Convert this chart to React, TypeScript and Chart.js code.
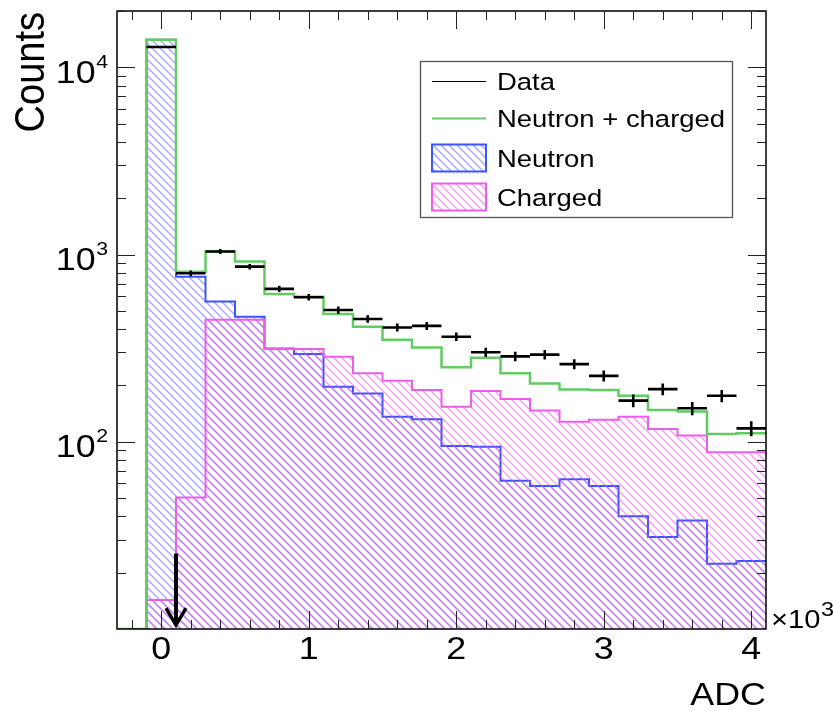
import { useEffect, useRef } from 'react';
import { Chart, registerables } from 'chart.js';

Chart.register(...registerables);

// ---------- data (ADC in units of 10^3) ----------
const binEdges = [-0.3, -0.1, 0.1, 0.3, 0.5, 0.7, 0.9, 1.1, 1.3, 1.5, 1.7, 1.9, 2.1, 2.3, 2.5, 2.7, 2.9, 3.1, 3.3, 3.5, 3.7, 3.9, 4.1];
const dataCounts = [0, 12840, 795, 1038, 862, 656, 592, 506, 453, 408, 416, 364, 301, 286, 292, 260, 225, 166, 191, 151, 176, 118];
const totalCounts = [0, 14060, 810, 1038, 918, 616, 596, 482, 412, 351, 319, 250, 281, 232, 205, 190, 189, 176, 148, 145, 110, 111];
const neutronCounts = [0, 14050, 762, 561, 466, 315, 294, 197, 181, 136, 132, 95, 94, 62, 58, 63, 58, 40, 31, 38, 22.3, 23.1];
const chargedCounts = [0, 14.3, 50.4, 449, 449, 313, 313, 285, 232, 212, 189, 154, 187, 169, 147, 128, 131, 136, 117, 108, 88, 88];

const xMajorTicks = [0, 1, 2, 3, 4];
const xTickLabels = ['0', '1', '2', '3', '4'];
const yDecadeExponents = [2, 3, 4];
const legendLabels = ['Data', 'Neutron + charged', 'Neutron', 'Charged'];
const arrowX = 0.1;
const arrowTop = 25.3;
const arrowTip = 10.5;

const X_MIN = -0.3;
const X_MAX = 4.1;
const Y_MIN = 10;
const Y_MAX = 20000;

const FONT = "'Liberation Sans', Arial, Helvetica, sans-serif";
const SX = 1.12;
const GREEN = '#62cc62';
const BLUE = '#3a55ff';
const MAGENTA = '#ee5cee';

function steps(vals: number[]) {
  return binEdges.map((e, i) => ({ x: e, y: Math.max(vals[Math.min(i, vals.length - 1)], Y_MIN) }));
}

function makeHatch(color: string) {
  const s = 8;
  const c = document.createElement('canvas');
  c.width = s;
  c.height = s;
  const g = c.getContext('2d')!;
  g.strokeStyle = color;
  g.lineWidth = 1.4;
  g.beginPath();
  for (let k = -1; k <= 1; k++) {
    g.moveTo(k * s - 1, -1);
    g.lineTo(k * s + s + 1, s + 1);
  }
  g.stroke();
  return g.createPattern(c, 'repeat')!;
}

function text(ctx: CanvasRenderingContext2D, str: string, x: number, y: number, size: number, align: CanvasTextAlign) {
  ctx.save();
  ctx.translate(x, y);
  ctx.scale(SX, 1);
  ctx.font = `${size}px ${FONT}`;
  ctx.textAlign = align;
  ctx.textBaseline = 'alphabetic';
  ctx.fillStyle = '#000';
  ctx.fillText(str, 0, 0);
  ctx.restore();
}

function width(ctx: CanvasRenderingContext2D, str: string, size: number) {
  ctx.save();
  ctx.font = `${size}px ${FONT}`;
  const w = ctx.measureText(str).width * SX;
  ctx.restore();
  return w;
}

export default function App() {
  const ref = useRef<HTMLCanvasElement>(null);

  useEffect(() => {
    const canvas = ref.current!;
    const blueHatch = makeHatch('rgba(80,80,255,0.5)');
    const magHatch = makeHatch('rgba(235,80,235,0.55)');

    const rootPlugin = {
      id: 'rootStyle',
      afterDatasetsDraw(chart: any) {
        const ctx: CanvasRenderingContext2D = chart.ctx;
        const a = chart.chartArea;
        const x = chart.scales.x;
        const y = chart.scales.y;

        // data points with error bars
        ctx.save();
        ctx.strokeStyle = '#000';
        ctx.lineWidth = 2.6;
        dataCounts.forEach((n, i) => {
          if (!n) return;
          const x0 = x.getPixelForValue(binEdges[i]);
          const x1 = x.getPixelForValue(binEdges[i + 1]);
          const py = y.getPixelForValue(n);
          const err = Math.sqrt(n);
          const xc = (x0 + x1) / 2;
          ctx.beginPath();
          ctx.moveTo(x0, py);
          ctx.lineTo(x1, py);
          ctx.moveTo(xc, y.getPixelForValue(n + err));
          ctx.lineTo(xc, y.getPixelForValue(n - err));
          ctx.stroke();
        });
        ctx.restore();

        // arrow
        ctx.save();
        const ax = x.getPixelForValue(arrowX);
        const aTop = y.getPixelForValue(arrowTop);
        const aTip = y.getPixelForValue(arrowTip);
        ctx.strokeStyle = '#000';
        ctx.lineWidth = 4;
        ctx.lineCap = 'butt';
        ctx.beginPath();
        ctx.moveTo(ax, aTop);
        ctx.lineTo(ax, aTip - 3);
        ctx.stroke();
        ctx.lineWidth = 3.4;
        ctx.lineJoin = 'miter';
        ctx.beginPath();
        ctx.moveTo(ax - 10, aTip - 17);
        ctx.lineTo(ax, aTip);
        ctx.lineTo(ax + 10, aTip - 17);
        ctx.stroke();
        ctx.restore();

        // frame
        ctx.save();
        ctx.strokeStyle = '#000';
        ctx.lineWidth = 1.5;
        ctx.strokeRect(a.left, a.top, a.right - a.left, a.bottom - a.top);

        // ticks
        ctx.lineWidth = 1;
        ctx.strokeStyle = '#222';
        ctx.beginPath();
        for (let k = -1; k <= 20; k++) {
          const v = k / 5;
          const px = Math.round(x.getPixelForValue(v)) + 0.5;
          const major = k % 5 === 0;
          const len = major ? 18 : 9;
          ctx.moveTo(px, a.bottom);
          ctx.lineTo(px, a.bottom - len);
          ctx.moveTo(px, a.top);
          ctx.lineTo(px, a.top + len);
        }
        for (let e = 1; e <= 4; e++) {
          for (let m = 1; m <= 9; m++) {
            const v = m * Math.pow(10, e);
            if (v <= Y_MIN || v > Y_MAX) continue;
            const py = Math.round(y.getPixelForValue(v)) + 0.5;
            const len = m === 1 ? 18 : 9;
            ctx.moveTo(a.left, py);
            ctx.lineTo(a.left + len, py);
            ctx.moveTo(a.right, py);
            ctx.lineTo(a.right - len, py);
          }
        }
        ctx.stroke();
        ctx.restore();

        // y labels 10^n
        yDecadeExponents.forEach((ex) => {
          const py = y.getPixelForValue(Math.pow(10, ex));
          const supSize = 19;
          const right = a.left - 9;
          const ws = width(ctx, String(ex), supSize);
          text(ctx, String(ex), right - ws, py + 0.5, supSize, 'left');
          text(ctx, '10', right - ws - 0.5, py + 15.5, 32, 'right');
        });

        // x labels
        xMajorTicks.forEach((v, i) => {
          text(ctx, xTickLabels[i], x.getPixelForValue(v), a.bottom + 30, 32, 'center');
        });
        // x10^3
        text(ctx, '\u00d710', a.right + 5, a.bottom - 1, 26, 'left');
        const w10 = width(ctx, '\u00d710', 26);
        text(ctx, '3', a.right + 5 + w10 + 0.5, a.bottom - 13, 21, 'left');

        // axis titles
        text(ctx, 'ADC', a.right, a.bottom + 76, 32, 'right');
        ctx.save();
        ctx.translate(44, 12);
        ctx.scale(SX, 1);
        ctx.rotate(-Math.PI / 2);
        ctx.font = `38px ${FONT}`;
        ctx.textAlign = 'right';
        ctx.fillStyle = '#000';
        ctx.fillText('Counts', 0, 0);
        ctx.restore();

        // legend
        ctx.save();
        const L = { x0: 420, y0: 61, x1: 732, y1: 217 };
        ctx.fillStyle = '#fff';
        ctx.fillRect(L.x0, L.y0, L.x1 - L.x0, L.y1 - L.y0);
        ctx.strokeStyle = '#555';
        ctx.lineWidth = 1.3;
        ctx.strokeRect(L.x0 + 0.5, L.y0 + 0.5, L.x1 - L.x0, L.y1 - L.y0);
        const rows = [81, 118.5, 158, 197];
        const sx0 = 432;
        const sx1 = 486;
        ctx.strokeStyle = '#000';
        ctx.lineWidth = 1;
        ctx.beginPath();
        ctx.moveTo(sx0, rows[0] + 0.5);
        ctx.lineTo(sx1, rows[0] + 0.5);
        ctx.stroke();
        ctx.strokeStyle = GREEN;
        ctx.lineWidth = 2;
        ctx.beginPath();
        ctx.moveTo(sx0, rows[1]);
        ctx.lineTo(sx1, rows[1]);
        ctx.stroke();
        const boxes = [
          { row: rows[2], fill: blueHatch, line: BLUE },
          { row: rows[3], fill: magHatch, line: MAGENTA },
        ];
        boxes.forEach((b) => {
          ctx.fillStyle = b.fill;
          ctx.fillRect(sx0, b.row - 13.5, sx1 - sx0, 27);
          ctx.strokeStyle = b.line;
          ctx.lineWidth = 2;
          ctx.strokeRect(sx0, b.row - 13.5, sx1 - sx0, 27);
        });
        ctx.restore();
        legendLabels.forEach((lbl, i) => {
          text(ctx, lbl, 497, rows[i] + 8.8, 24.5, 'left');
        });
      },
    };

    const chart = new Chart(canvas, {
      type: 'line',
      data: {
        datasets: [
          {
            label: 'Neutron + charged',
            data: steps(totalCounts),
            stepped: 'before',
            borderColor: GREEN,
            borderWidth: 2.5,
            fill: false,
            pointRadius: 0,
            order: 0,
          },
          {
            label: 'Charged',
            data: steps(chargedCounts),
            stepped: 'before',
            borderColor: MAGENTA,
            borderWidth: 2,
            backgroundColor: magHatch,
            fill: 'start',
            pointRadius: 0,
            order: 1,
          },
          {
            label: 'Neutron',
            data: steps(neutronCounts),
            stepped: 'before',
            borderColor: BLUE,
            borderWidth: 2,
            backgroundColor: blueHatch,
            fill: 'start',
            pointRadius: 0,
            order: 2,
          },
        ],
      },
      options: {
        responsive: false,
        animation: false,
        events: [],
        layout: { padding: { left: 117, right: 67, top: 11, bottom: 82 } },
        scales: {
          x: { type: 'linear', min: X_MIN, max: X_MAX, display: false },
          y: { type: 'logarithmic', min: Y_MIN, max: Y_MAX, display: false },
        },
        plugins: { legend: { display: false }, tooltip: { enabled: false } },
      },
      plugins: [rootPlugin],
    } as any);

    return () => chart.destroy();
  }, []);

  return (
    <div style={{ position: 'fixed', left: 0, top: 0, width: 833, height: 711, background: '#fff' }}>
      <canvas ref={ref} width={833} height={711} style={{ display: 'block' }} />
    </div>
  );
}
